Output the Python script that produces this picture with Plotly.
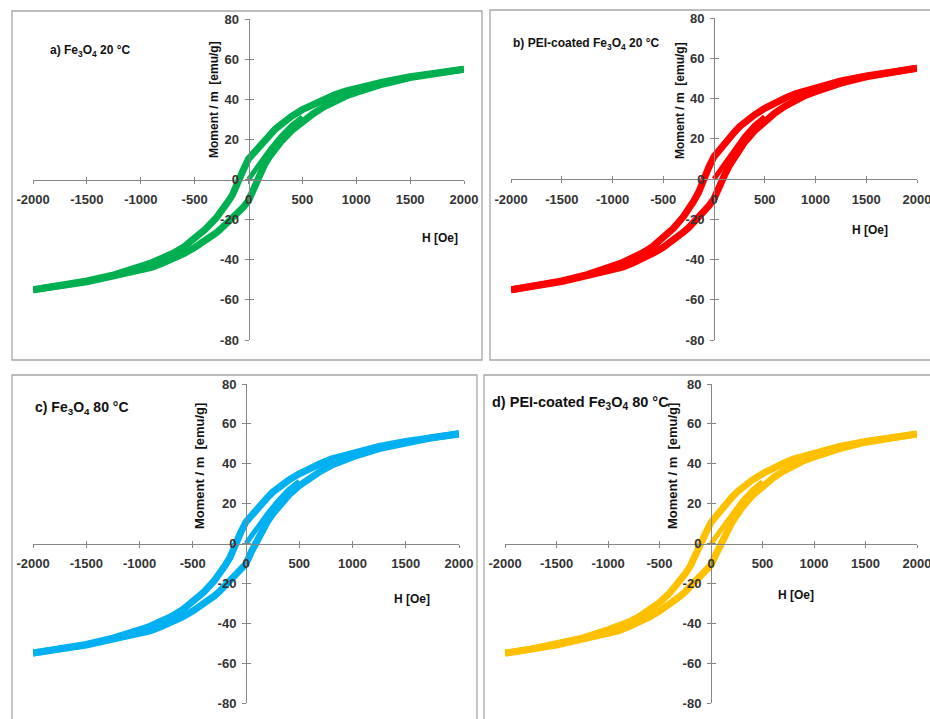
import plotly.graph_objects as go

# ---------------- data ----------------
H_desc = [2000, 1750, 1500, 1250, 1000, 900, 800, 700, 600, 500, 400, 300, 250, 200, 150, 100, 50, 0,
          -50, -100, -150, -200, -250, -300, -400, -500, -600, -700, -800, -900, -1000, -1250,
          -1500, -1750, -2000]
H_asc = [-2000, -1750, -1500, -1250, -1000, -900, -800, -700, -600, -500, -400, -300, -250, -200,
         -150, -100, -50, 0, 50, 100, 150, 200, 250, 300, 400, 500, 600, 700, 800, 900, 1000, 1250,
         1500, 1750, 2000]
H_virgin = [0, 50, 100, 150, 200, 300, 400, 500]

# a) Fe3O4 20 °C
Ma_desc = [55, 53.3, 51.2, 48.7, 45.6, 44, 42.2, 40, 37.6, 34.8, 31.5, 27.5, 25.2, 22.3, 19.3, 16.6,
           13.7, 10.3, 4.5, -2.5, -7.8, -11.8, -15.6, -19.2, -24.8, -29.6, -33.6, -36.8, -39.4,
           -41.5, -43.3, -47.5, -50.6, -53, -55]
Ma_asc = [-55, -53.3, -51, -48, -45.6, -43.8, -41.8, -39.5, -36.9, -33.9, -30.5, -26.6, -24.3,
          -21.8, -19.1, -16.6, -13.9, -10.6, -4.4, 2.3, 7.6, 11.8, 15.4, 18.8, 24.4, 29, 32.8, 36.2,
          39.2, 41.5, 43.4, 47.6, 50.8, 53.1, 55]
Ma_virgin = [0, 3.8, 8, 11.5, 15, 21.5, 27, 31.2]

# b) PEI-coated Fe3O4 20 °C
Mb_desc = [55, 53.3, 51.2, 48.7, 45.6, 44, 42.3, 40.2, 37.8, 35.1, 31.9, 28.1, 25.9, 23.2, 20.3, 17.4,
           14.4, 11.1, 6, -0.5, -6.5, -11, -15, -18.6, -24.5, -29.3, -33.4, -36.6, -39.3,
           -41.5, -43.3, -47.5, -50.6, -53, -55]
Mb_asc = [-55, -53.3, -51, -48, -45.6, -43.8, -41.8, -39.5, -36.9, -33.9, -30.5, -26.4, -24.2,
          -21.6, -18.9, -16.2, -13.3, -9.8, -3.5, 1.5, 6.6, 10.9, 14.7, 18.2, 24, 28.8, 32.8, 36.2,
          39.2, 41.5, 43.4, 47.6, 50.8, 53.1, 55]
Mb_virgin = [0, 3.6, 7.6, 11.2, 14.6, 21.2, 26.8, 31]

# c) Fe3O4 80 °C
Mc_desc = [55, 53.3, 51.2, 48.7, 45.6, 44, 42.3, 40.1, 37.7, 35, 31.8, 28, 25.7, 23, 20, 17,
           14, 10.8, 5.5, -1, -7, -11.3, -15.2, -18.8, -24.6, -29.4, -33.4, -36.6, -39.3,
           -41.5, -43.3, -47.5, -50.6, -53, -55]
Mc_asc = [-55, -53.3, -51, -48, -45.6, -43.8, -41.8, -39.5, -36.9, -33.9, -30.5, -26.4, -24.1,
          -21.5, -18.8, -16.2, -13.4, -10.2, -4.2, 1.2, 6.5, 10.9, 14.8, 18.4, 24.2, 29, 32.9, 36.3,
          39.2, 41.5, 43.4, 47.6, 50.8, 53.1, 55]
Mc_virgin = [0, 3.7, 7.8, 11.4, 14.8, 21.4, 27, 31.2]

# d) PEI-coated Fe3O4 80 °C
Md_desc = [55, 53.3, 51.2, 48.7, 45.6, 44, 42.3, 40.1, 37.7, 35, 31.8, 28, 25.7, 23, 20, 17,
           14, 10.6, 5.4, -0.8, -6.8, -11.2, -15.2, -18.8, -24.8, -29.6, -33.6, -36.8, -39.4,
           -41.5, -43.3, -47.5, -50.6, -53, -55]
Md_asc = [-55, -53.3, -51, -48, -45.6, -43.8, -41.8, -39.5, -36.9, -33.9, -30.5, -26.5, -24.2,
          -21.7, -19, -16.5, -13.8, -10.8, -5.2, 0.2, 5.6, 10.2, 14.2, 18, 24, 28.8, 32.8, 36.2,
          39.2, 41.5, 43.4, 47.6, 50.8, 53.1, 55]
Md_virgin = [0, 3.5, 7.5, 11.1, 14.5, 21.1, 26.8, 31]

x_ticks = [-2000, -1500, -1000, -500, 0, 500, 1000, 1500, 2000]
x_tick_text = ["-2000", "-1500", "-1000", "-500", "0", "500", "1000", "1500", "2000"]
y_ticks = [-80, -60, -40, -20, 0, 20, 40, 60, 80]
y_tick_text = ["-80", "-60", "-40", "-20", "0", "20", "40", "60", "80"]

panel_labels = ["a) Fe<sub>3</sub>O<sub>4</sub> 20 °C",
                "b) PEI-coated Fe<sub>3</sub>O<sub>4</sub> 20 °C",
                "c) Fe<sub>3</sub>O<sub>4</sub> 80 °C",
                "d) PEI-coated Fe<sub>3</sub>O<sub>4</sub> 80 °C"]
y_title = "Moment / m  [emu/g]"
x_title = "H [Oe]"
colors = ["#00B050", "#FF0000", "#00B0F0", "#FFC000"]

series = [(Ma_desc, Ma_asc, Ma_virgin), (Mb_desc, Mb_asc, Mb_virgin),
          (Mc_desc, Mc_asc, Mc_virgin), (Md_desc, Md_asc, Md_virgin)]

# ---------------- layout geometry (pixels) ----------------
W, HH = 930, 719
boxes = [(33, 464, 19, 340), (511, 917, 18, 340), (33, 459, 384, 703), (505, 917, 384, 703)]
frames = [(12, 482, 11, 360), (490, 931, 10, 360), (12, 477, 375, 721), (484, 931, 375, 721)]
label_pos = [(48, 51, 12), (511, 44, 12), (33, 408, 14), (490, 403, 14.5)]
ytitle_pos = [(214, 100, 12), (680, 101, 12), (199, 466, 13), (672, 466, 13)]
xtitle_pos = [(440, 238), (870, 230), (412, 599), (796, 595)]

FONT = "Liberation Sans, Arial, sans-serif"
AX = "#868686"
TXT = "#333333"


def px(x):
    return x / W


def py(y):
    return 1 - y / HH


fig = go.Figure()
layout = dict(width=W, height=HH, margin=dict(l=0, r=0, t=0, b=0, pad=0, autoexpand=False),
              autosize=False, paper_bgcolor="white", plot_bgcolor="rgba(0,0,0,0)",
              showlegend=False, shapes=[], annotations=[])

for i in range(4):
    n = i + 1
    xl, xr, yt, yb = boxes[i]
    x0 = (xl + xr) / 2
    y0 = (yt + yb) / 2
    xa, ya = f"x{n}", f"y{n}"
    xo, yo = f"x{n + 4}", f"y{n + 4}"
    m_desc, m_asc, m_vir = series[i]
    col = colors[i]
    for hx, my, wd in [(H_virgin, m_vir, 5), (H_desc, m_desc, 7), (H_asc, m_asc, 7)]:
        fig.add_trace(go.Scatter(x=hx, y=my, mode="lines", xaxis=xa, yaxis=ya,
                                 line=dict(color=col, width=wd), hoverinfo="skip"))
    fig.add_trace(go.Scatter(x=[None], y=[None], xaxis=xo, yaxis=yo, hoverinfo="skip"))

    common = dict(showgrid=False, zeroline=False, fixedrange=True, automargin=False)
    layout[f"xaxis{n}"] = dict(domain=[px(xl), px(xr)], range=[-2000, 2000], anchor="free",
                               position=py(y0), tickvals=x_ticks, ticktext=x_tick_text,
                               ticks="outside", ticklen=3, ticklabeloverflow="allow",
                               tickwidth=1, tickcolor=AX, showline=True, linecolor=AX,
                               linewidth=1, ticklabelstandoff=5,
                               tickfont=dict(family=FONT, size=13, color=TXT, weight="bold"),
                               **common)
    layout[f"yaxis{n}"] = dict(domain=[py(yb), py(yt)], range=[-80, 80], anchor="free",
                               position=px(x0), tickvals=y_ticks, ticktext=y_tick_text,
                               ticks="outside", ticklen=4, ticklabeloverflow="allow",
                               tickwidth=1, tickcolor=AX, showline=True, linecolor=AX,
                               linewidth=1, ticklabelstandoff=3,
                               tickfont=dict(family=FONT, size=13, color=TXT, weight="bold"),
                               **common)
    layout[f"xaxis{n + 4}"] = dict(overlaying=xa, range=[-2000, 2000], anchor="free",
                                   position=py(y0), tickvals=x_ticks, ticks="inside", ticklen=3,
                                   tickwidth=1, tickcolor=AX, showline=False,
                                   showticklabels=False, **common)
    layout[f"yaxis{n + 4}"] = dict(overlaying=ya, range=[-80, 80], anchor="free",
                                   position=px(x0), tickvals=y_ticks, ticks="inside", ticklen=4,
                                   tickwidth=1, tickcolor=AX, showline=False,
                                   showticklabels=False, **common)

    fx0, fx1, fy0, fy1 = frames[i]
    layout["shapes"].append(dict(type="rect", xref="paper", yref="paper",
                                 x0=px(fx0), x1=px(fx1), y0=py(fy1), y1=py(fy0),
                                 line=dict(color="#A6A6A6", width=1.3), layer="below"))

    lx, ly, ls = label_pos[i]
    layout["annotations"].append(dict(text=panel_labels[i], xref="paper", yref="paper",
                                      x=px(lx), y=py(ly), xanchor="left", yanchor="middle",
                                      showarrow=False,
                                      font=dict(family=FONT, size=ls, color="#111", weight="bold")))
    tx, ty, ts = ytitle_pos[i]
    layout["annotations"].append(dict(text=y_title, xref="paper", yref="paper",
                                      x=px(tx), y=py(ty), xanchor="center", yanchor="middle",
                                      textangle=-90, showarrow=False,
                                      font=dict(family=FONT, size=ts, color="#111", weight="bold")))
    hx_, hy_ = xtitle_pos[i]
    layout["annotations"].append(dict(text=x_title, xref="paper", yref="paper",
                                      x=px(hx_), y=py(hy_), xanchor="center", yanchor="middle",
                                      showarrow=False,
                                      font=dict(family=FONT, size=12, color="#111", weight="bold")))

fig.update_layout(**layout)
fig.write_html("out.html")
